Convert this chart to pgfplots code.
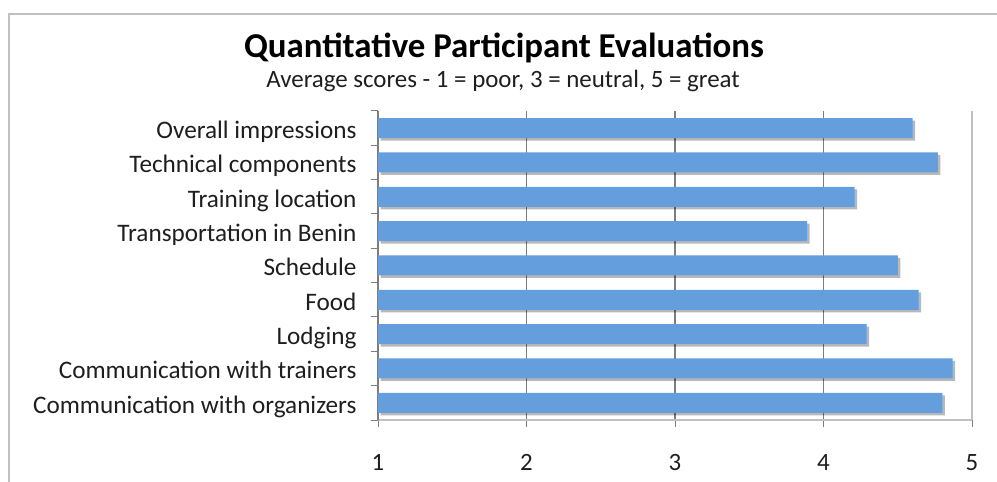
\documentclass[border=0pt]{standalone}
\usepackage{pgfplots}
\pgfplotsset{compat=1.18}
\usepackage{fontspec}
\setmainfont{Carlito}
\definecolor{barblue}{RGB}{101,158,220}
\definecolor{gridgray}{RGB}{125,125,125}
\definecolor{framegray}{RGB}{192,192,192}
\definecolor{labelgray}{RGB}{30,30,30}
\pgfplotstableread{
idx val
0 4.80
1 4.87
2 4.29
3 4.64
4 4.50
5 3.89
6 4.21
7 4.77
8 4.60
}\scores
\begin{document}
\begin{tikzpicture}
\useasboundingbox (0bp,0bp) rectangle (997bp,482bp);
\draw[framegray, line width=2.5bp] (9bp,-5bp) -- (9bp,468bp) -- (1005bp,468bp);
\node[font=\fontsize{35}{40}\selectfont\bfseries] at (504bp,434bp) {Quantitative Participant Evaluations};
\node[font=\fontsize{25}{30}\selectfont, text=labelgray] at (503bp,401bp) {Average scores - 1 = poor, 3 = neutral, 5 = great};
\begin{axis}[
  at={(378bp,62bp)}, anchor=south west, scale only axis,
  width=594bp, height=309bp,
  xmin=1, xmax=5, ymin=-0.5, ymax=8.5,
  xbar, bar width=20bp, bar shift=0pt,
  axis x line*=bottom, axis y line*=left,
  x axis line style={framegray, line width=1.2bp},
  y axis line style={gridgray, line width=1.2bp},
  xtick={1,2,3,4}, xmajorgrids,
  grid style={gridgray, line width=1.2bp},
  extra x ticks={5},
  extra x tick style={grid style={framegray, line width=1.5bp}},
  tick align=outside, major tick length=7bp,
  xtick style={gridgray, line width=1bp},
  ytick={0,...,8},
  yticklabels={Communication with organizers, Communication with trainers, Lodging, Food, Schedule, Transportation in Benin, Training location, Technical components, Overall impressions},
  ytick style={draw=none},
  extra y ticks={-0.5,0.5,...,8.5},
  extra y tick labels={},
  extra y tick style={ytick style={draw=gridgray, line width=1bp}},
  /pgf/number format/assume math mode=true,
  yticklabel style={font=\fontsize{25.3}{30}\selectfont, text=labelgray, xshift=-11bp, yshift=-8bp, text height=0.7em, text depth=0.25em},
  xticklabel style={font=\fontsize{25}{30}\selectfont, text=labelgray, yshift=-24bp},
]
\addplot[fill=black, opacity=0.28, draw=none, xshift=2.5bp, yshift=-2.5bp] table[x=val, y=idx] {\scores};
\addplot[fill=barblue, draw=none] table[x=val, y=idx] {\scores};
\end{axis}
\end{tikzpicture}
\end{document}
